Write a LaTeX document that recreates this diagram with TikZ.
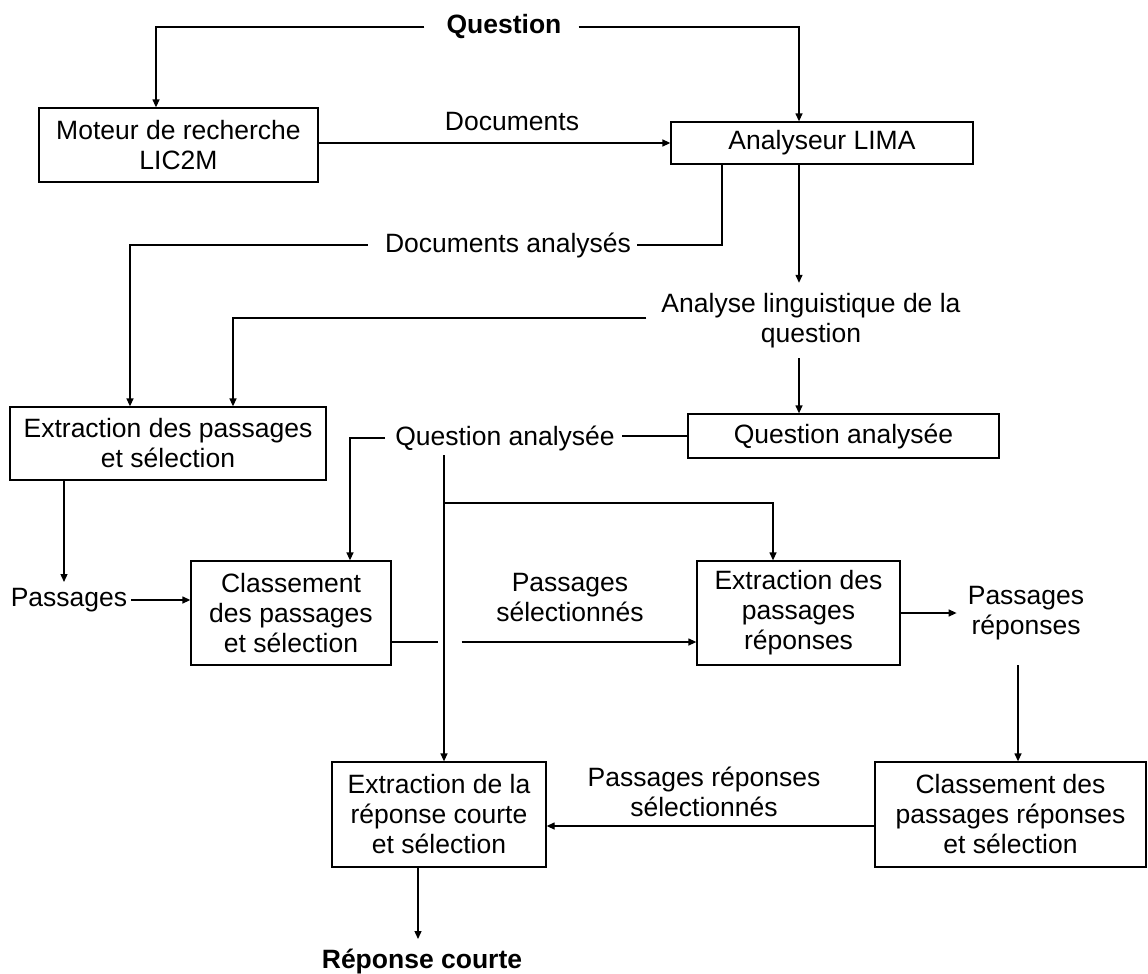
\documentclass[tikz,border=0pt]{standalone}
\usepackage{fontspec}
\setmainfont{Liberation Sans}
\usetikzlibrary{arrows.meta}
\begin{document}
\begin{tikzpicture}[x=1pt,y=-1pt,
  every node/.style={font=\fontsize{26.5}{30}\selectfont},
  box/.style={draw, line width=1.3pt, inner sep=0pt, align=center},
  lbl/.style={inner sep=0pt, align=center},
  bold/.style={lbl, font=\fontsize{26.5}{30}\selectfont\bfseries},
  conn/.style={line width=1.3pt},
  arr/.style={conn, -{Triangle[length=8pt,width=7pt]}}]

% canvas
\fill[white] (0,0) rectangle (1148,974);
\useasboundingbox (0,0) rectangle (1148,974);

% processing boxes
\node[box, minimum width=279pt, minimum height=74pt] (moteur) at (178.5,145) {Moteur de recherche\\LIC2M};
\node[box, minimum width=302pt, minimum height=42pt] (lima) at (822,143) {Analyseur LIMA};
\node[box, minimum width=316pt, minimum height=73pt] (extr1) at (168,443.5) {Extraction des passages\\et sélection};
\node[box, minimum width=311pt, minimum height=44pt] (qabox) at (843.5,436) {Question analysée};
\node[box, minimum width=200pt, minimum height=104pt] (class1) at (291,613) {Classement\\des passages\\et sélection};
\node[box, minimum width=203pt, minimum height=104pt] (extr2) at (798.5,613) {Extraction des\\passages\\réponses};
\node[box, minimum width=214pt, minimum height=105pt] (extr3) at (439,814.5) {Extraction de la\\réponse courte\\et sélection};
\node[box, minimum width=271pt, minimum height=105pt] (class2) at (1010.5,814.5) {Classement des\\passages réponses\\et sélection};

% data labels
\node[bold] (question) at (504,27) {Question};
\node[lbl] (documents) at (512,122) {Documents};
\node[lbl] (docan) at (508,245) {Documents analysés};
\node[lbl, minimum height=75pt] (anling) at (811,320.5) {Analyse linguistique de la\\question};
\node[lbl] (qalab) at (505,438) {Question analysée};
\node[lbl] (passages) at (69,600) {Passages};
\node[lbl] (passel) at (570,598) {Passages\\sélectionnés};
\node[lbl] (pasrep) at (1026,613) {Passages\\réponses};
\node[lbl] (pasrepsel) at (704,792) {Passages réponses\\sélectionnés};
\node[bold] (reponse) at (422,962) {Réponse courte};

% free ends of connectors
\coordinate (qv) at (444,455);
\coordinate (qb) at (444,503);
\coordinate (prdown) at (1018,665);
\coordinate (pdown) at (64,582);
\coordinate (rdown) at (418,939);

% question dispatch
\draw[arr, shorten <=22pt] (question.west) -| ([xshift=-22.5pt]moteur.north);
\draw[arr, shorten <=17pt] (question.east) -| ([xshift=-23pt]lima.north);

% documents to the analyser
\draw[arr] (moteur.east |- lima.west) -- (lima.west);

% analysed documents
\draw[conn, shorten >=6pt] ([xshift=-100pt]lima.south) |- (docan.east);
\draw[arr, shorten <=17pt] (docan.west) -| ([xshift=-38pt]extr1.north);

% linguistic analysis of the question
\draw[arr] ([xshift=-23pt]lima.south) -- ([xshift=-12pt]anling.north);
\draw[arr, shorten <=15pt] ([yshift=2.5pt]anling.west) -| ([xshift=65pt]extr1.north);
\draw[arr] ([xshift=-12pt]anling.south) -- ([xshift=-44.5pt]qabox.north);

% analysed question
\draw[conn, shorten >=7pt] (qabox.west) -- (qabox.west -| qalab.east);
\draw[arr, shorten <=10pt] (qalab.west) -| ([xshift=59pt]class1.north);
\draw[arr] (qv) -- ([xshift=5pt]extr3.north);
\draw[arr] (qb) -| ([xshift=-25.5pt]extr2.north);

% passages
\draw[arr] ([xshift=-104pt]extr1.south) -- (pdown);
\draw[arr, shorten <=4pt] (passages.east) -- (passages.east -| class1.west);

% selected passages (line jumps over the vertical)
\draw[conn] ([yshift=-29pt]class1.east) -- ++(46,0);
\draw[arr] ([yshift=-29pt]class1.east) ++(70,0) -- ([yshift=-29pt]extr2.west);

% answer passages
\draw[arr, shorten >=11pt] (extr2.east) -- (extr2.east -| pasrep.west);
\draw[arr] (prdown) -- ([xshift=7.5pt]class2.north);
\draw[arr] ([yshift=-11.5pt]class2.west) -- ([yshift=-11.5pt]extr3.east);

% short answer
\draw[arr] ([xshift=-21pt]extr3.south) -- (rdown);
\end{tikzpicture}
\end{document}
